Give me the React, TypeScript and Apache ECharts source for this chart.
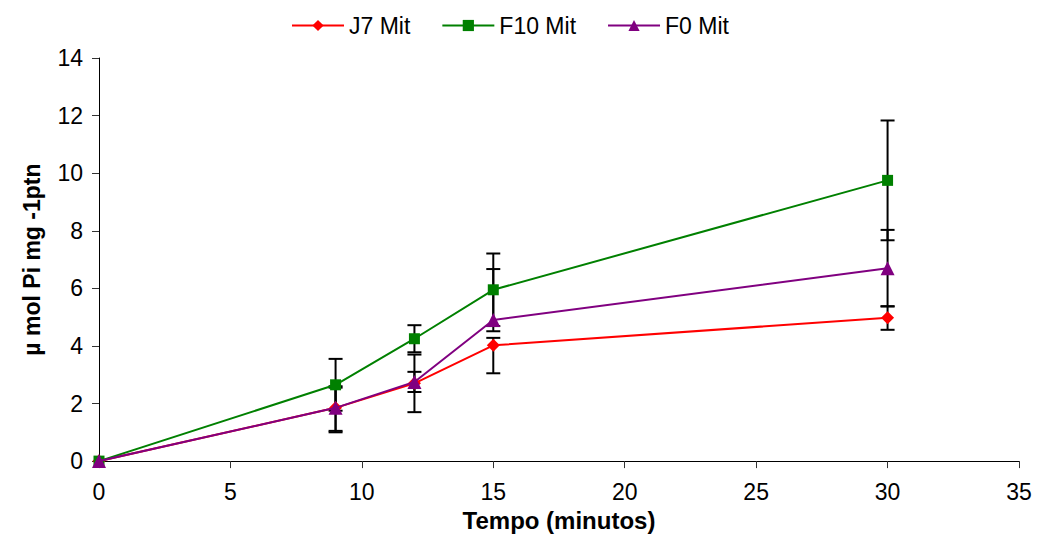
import React, { useEffect, useRef } from "react";
import * as echarts from "echarts";

const xValues = [0, 9, 12, 15, 30];
const seriesNames = ["J7 Mit", "F10 Mit", "F0 Mit"];
const j7 = [0, 1.85, 2.7, 4.02, 4.98];
const f10 = [0, 2.65, 4.25, 5.95, 9.75];
const f0 = [0, 1.85, 2.75, 4.9, 6.7];
const j7ErrUp = [0, 0.75, 1.0, 0.26, 0.4];
const j7ErrDown = [0, 0.8, 1.0, 0.97, 0.42];
const f10ErrUp = [0, 0.9, 0.47, 1.26, 2.08];
const f10ErrDown = [0, 0.9, 0.47, 1.26, 2.08];
const f0ErrUp = [0, 0.7, 0.35, 1.77, 1.33];
const f0ErrDown = [0, 0.85, 0.35, 0.39, 1.33];

const colors = ["#FF0000", "#008000", "#800080"];
const symbols = ["diamond", "rect", "triangle"];
const symbolSizes = [13, 11, 14];
const FONT = "Liberation Sans, Arial, sans-serif";

export default function App() {
  const ref = useRef<HTMLDivElement>(null);
  useEffect(() => {
    document.body.style.margin = "0";
    const chart = echarts.init(ref.current!, null, { renderer: "svg" });
    const values = [j7, f10, f0];
    const ups = [j7ErrUp, f10ErrUp, f0ErrUp];
    const downs = [j7ErrDown, f10ErrDown, f0ErrDown];

    const lineSeries = values.map((v, i) => ({
      name: seriesNames[i],
      type: "line",
      data: xValues.map((x, k) => [x, v[k]]),
      symbol: symbols[i],
      symbolSize: symbolSizes[i],
      showAllSymbol: true,
      lineStyle: { color: colors[i], width: 2 },
      itemStyle: { color: colors[i] },
      z: 5 + i,
    }));

    const errSeries = values.map((v, i) => ({
      name: seriesNames[i] + " err",
      type: "custom",
      data: xValues.map((x, k) => [x, v[k] - downs[i][k], v[k] + ups[i][k]]),
      renderItem: (params: any, api: any) => {
        const x = api.value(0);
        const lo = api.value(1);
        const hi = api.value(2);
        if (hi - lo <= 0) return null;
        const pHi = api.coord([x, hi]);
        const pLo = api.coord([x, lo]);
        const half = 7;
        const style = { stroke: "#000", lineWidth: 2 };
        return {
          type: "group",
          children: [
            { type: "line", shape: { x1: pHi[0], y1: pHi[1], x2: pLo[0], y2: pLo[1] }, style },
            { type: "line", shape: { x1: pHi[0] - half, y1: pHi[1], x2: pHi[0] + half, y2: pHi[1] }, style },
            { type: "line", shape: { x1: pLo[0] - half, y1: pLo[1], x2: pLo[0] + half, y2: pLo[1] }, style },
          ],
        };
      },
      z: 3,
      silent: true,
    }));

    chart.setOption({
      animation: false,
      textStyle: { fontFamily: FONT },
      legend: {
        data: seriesNames,
        top: 9,
        left: 286,
        itemWidth: 52,
        itemHeight: 14,
        itemGap: 31,
        textStyle: { fontSize: 23, color: "#000", fontFamily: FONT },
      },
      grid: { left: 99, right: 18, top: 58, bottom: 73 },
      xAxis: {
        type: "value",
        min: 0,
        max: 35,
        interval: 5,
        name: "Tempo (minutos)",
        nameLocation: "middle",
        nameGap: 45,
        nameTextStyle: { fontSize: 24, fontWeight: "bold", color: "#000", fontFamily: FONT },
        axisLine: { show: true, onZero: false, lineStyle: { color: "#000", width: 1 } },
        axisTick: { show: true, length: 7, lineStyle: { color: "#333" } },
        axisLabel: { fontSize: 23, color: "#000", margin: 19, fontFamily: FONT },
        splitLine: { show: false },
      },
      yAxis: {
        type: "value",
        min: 0,
        max: 14,
        interval: 2,
        name: "µ mol Pi mg -1ptn",
        nameLocation: "middle",
        nameGap: 56,
        nameRotate: 90,
        nameTextStyle: { fontSize: 23, fontWeight: "bold", color: "#000", fontFamily: FONT },
        axisLine: { show: true, lineStyle: { color: "#000", width: 1 } },
        axisTick: { show: true, length: 7, lineStyle: { color: "#333" } },
        axisLabel: { fontSize: 23, color: "#000", margin: 16, fontFamily: FONT },
        splitLine: { show: false },
      },
      series: [...errSeries, ...lineSeries],
    });
    return () => chart.dispose();
  }, []);
  return <div ref={ref} style={{ width: 1037, height: 537 }} />;
}
